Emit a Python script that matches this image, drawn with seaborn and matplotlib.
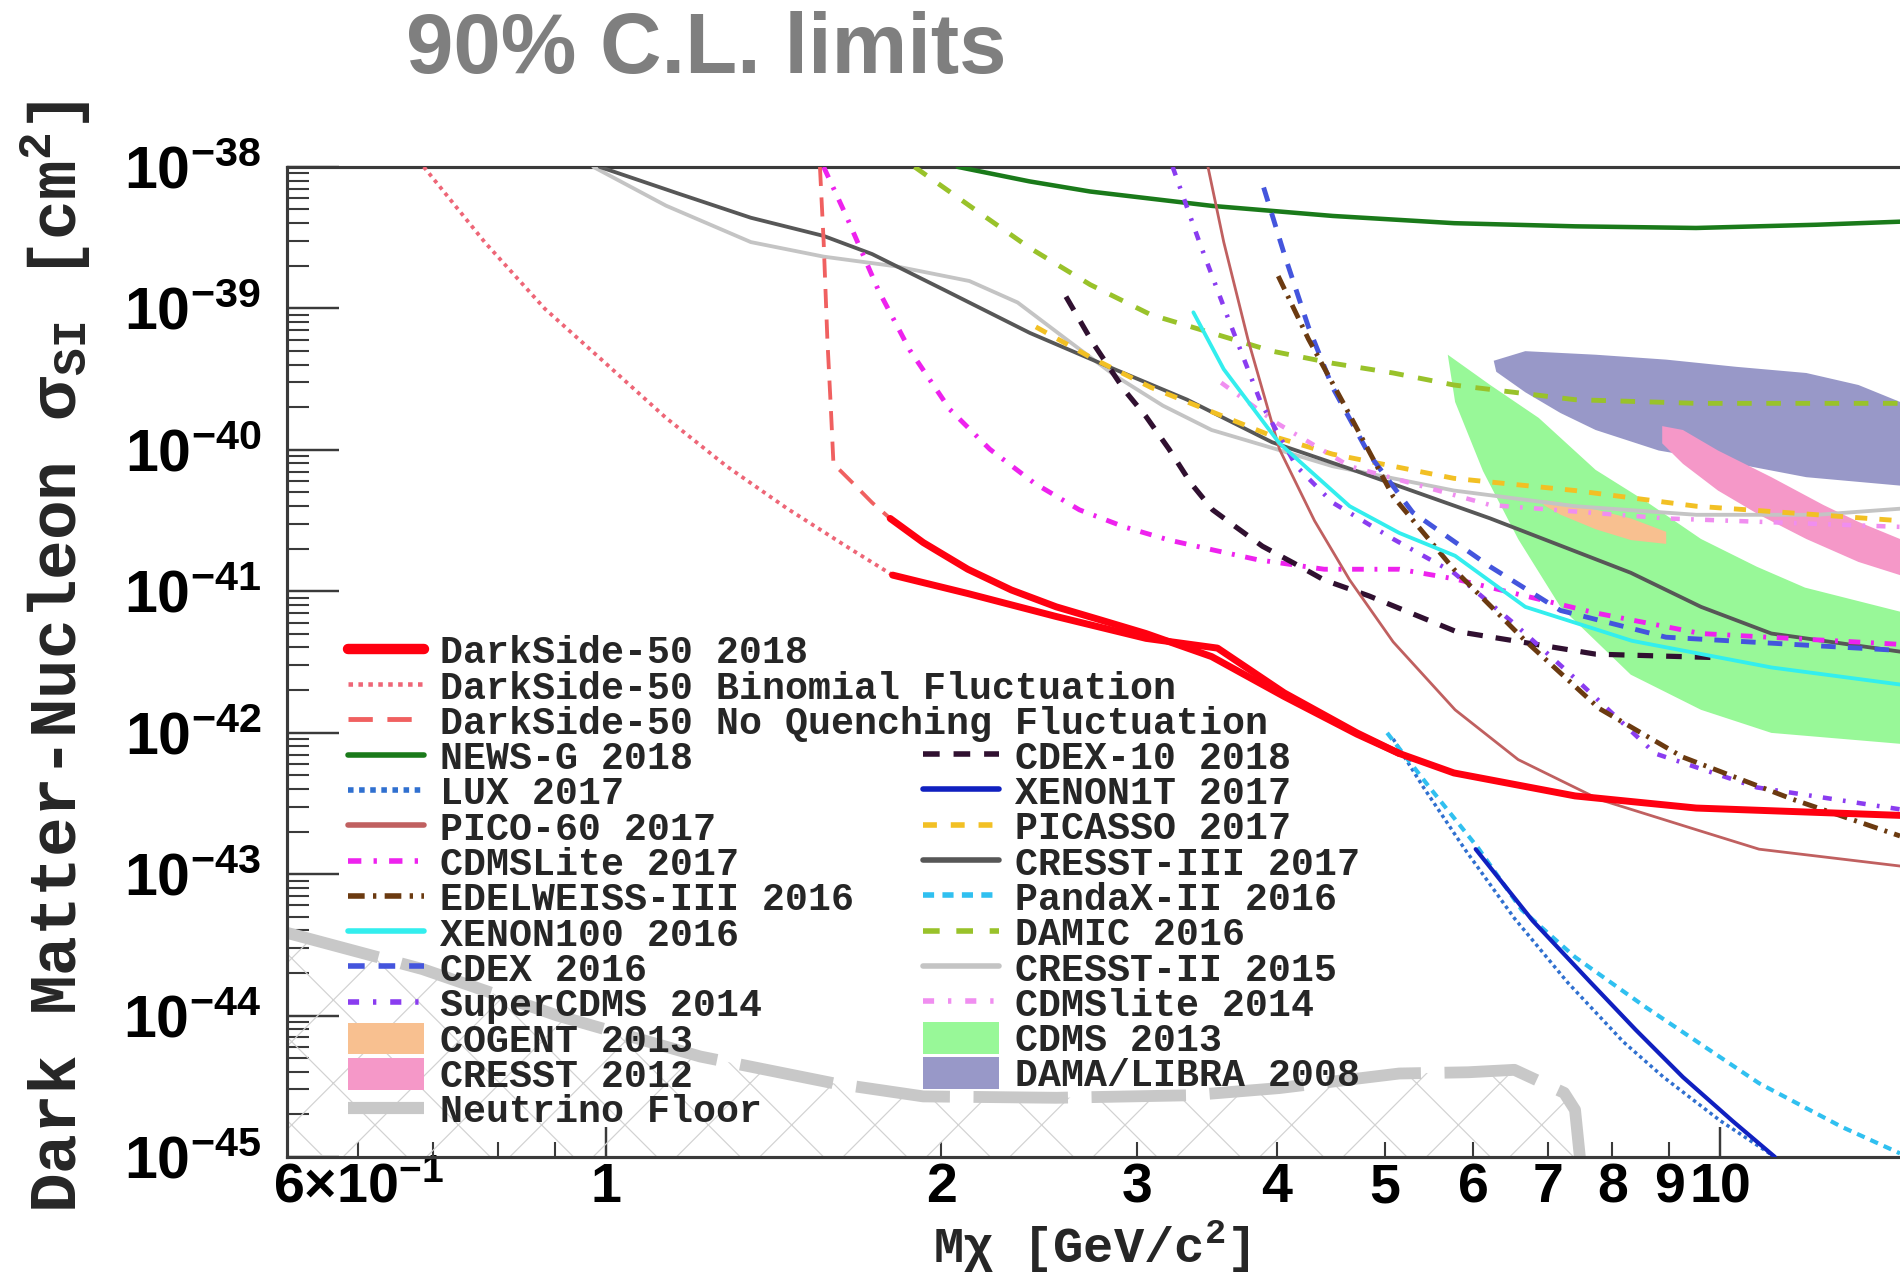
import matplotlib
matplotlib.use("Agg")
import matplotlib.pyplot as plt
from matplotlib.ticker import FixedLocator, FixedFormatter, LogLocator, NullFormatter
import seaborn as sns

# ------------------------------------------------------------------
# 90% C.L. exclusion limits: WIMP mass [GeV/c^2] vs sigma_SI [cm^2]
# ------------------------------------------------------------------
ds50_a_m = [1.800, 1.927, 2.113, 2.312, 2.537, 2.784, 3.053, 3.496, 4.062, 4.720, 5.152, 5.766, 7.406, 9.512, 14.49]
ds50_a_s = [3.27e-41, 2.21e-41, 1.43e-41, 1.02e-41, 7.75e-42, 6.24e-42, 5.02e-42, 3.45e-42, 1.80e-42, 9.76e-43,
            7.12e-43, 5.19e-43, 3.57e-43, 2.93e-43, 2.60e-43]
ds50_b_m = [1.809, 2.113, 2.537, 3.053, 3.539, 4.062, 4.720, 5.152]
ds50_b_s = [1.30e-41, 9.63e-42, 6.62e-42, 4.64e-42, 3.96e-42, 1.91e-42, 9.96e-43, 7.12e-43]
ds50_binom_m = [0.687, 0.779, 0.882, 1.0, 1.133, 1.284, 1.456, 1.650, 1.809]
ds50_binom_s = [1.0e-38, 2.94e-39, 9.94e-40, 4.09e-40, 1.68e-40, 7.65e-41, 3.83e-41, 2.04e-41, 1.30e-41]
ds50_noq_m = [1.557, 1.569, 1.581, 1.593, 1.601, 1.671, 1.734, 1.800]
ds50_noq_s = [1.0e-38, 2.94e-39, 6.07e-40, 1.86e-40, 7.96e-41, 5.69e-41, 4.23e-41, 3.27e-41]

newsg_m = [2.07, 2.40, 2.72, 3.50, 4.49, 5.77, 7.41, 9.51, 12.2, 14.5]
newsg_s = [1.0e-38, 7.9e-39, 6.7e-39, 5.3e-39, 4.5e-39, 4.0e-39, 3.8e-39, 3.7e-39, 3.9e-39, 4.1e-39]

lux_m = [5.087, 5.416, 5.898, 6.534, 7.295, 8.185, 8.890, 10.0, 11.19]
lux_s = [9.03e-43, 4.10e-43, 1.50e-43, 4.87e-44, 1.71e-44, 6.50e-45, 3.67e-45, 1.80e-45, 1.0e-45]

pico_m = [3.470, 3.585, 3.768, 4.022, 4.324, 4.650, 5.087, 5.781, 6.585, 7.787, 9.512, 10.83, 14.49]
pico_s = [1.0e-38, 2.94e-39, 6.07e-40, 1.01e-40, 3.15e-41, 1.20e-41, 4.38e-42, 1.45e-42, 6.45e-43, 3.37e-43,
          2.06e-43, 1.50e-43, 1.14e-43]

cdmslite17_m = [1.569, 1.645, 1.757, 1.874, 2.036, 2.211, 2.425, 2.661, 2.919, 3.202, 3.504, 3.844, 4.411,
                5.152, 5.781, 7.727, 9.607, 14.49]
cdmslite17_s = [1.0e-38, 4.45e-39, 1.34e-39, 5.08e-40, 1.93e-40, 1.01e-40, 5.80e-41, 3.76e-41, 2.85e-41,
                2.30e-41, 1.96e-41, 1.67e-41, 1.43e-41, 1.43e-41, 1.22e-41, 7.02e-42, 5.02e-42, 4.21e-42]

edelweiss_m = [4.012, 4.270, 4.603, 5.087, 5.766, 6.683, 7.787, 9.254, 11.62, 14.49]
edelweiss_s = [1.69e-39, 6.07e-40, 2.05e-40, 4.67e-41, 1.43e-41, 4.46e-42, 1.48e-42, 6.71e-43, 3.37e-43, 1.86e-43]

xenon100_m = [3.367, 3.585, 4.022, 4.650, 5.152, 5.781, 6.683, 8.330, 11.11, 14.49]
xenon100_s = [9.37e-40, 3.71e-40, 1.11e-40, 3.99e-41, 2.58e-41, 1.78e-41, 7.75e-42, 4.46e-42, 2.89e-42, 2.19e-42]

cdex16_m = [3.893, 4.062, 4.270, 4.489, 4.839, 5.296, 6.216, 7.186, 8.937, 14.49]
cdex16_s = [7.15e-39, 2.42e-39, 7.39e-40, 2.76e-40, 9.31e-41, 3.61e-41, 1.49e-41, 7.31e-42, 4.73e-42, 3.81e-42]

supercdms_m = [3.226, 3.409, 3.611, 3.873, 4.165, 4.489, 5.087, 5.766, 6.534, 7.406, 8.737, 10.78, 14.49]
supercdms_s = [1.0e-38, 2.94e-39, 8.83e-40, 2.13e-40, 7.65e-41, 4.23e-41, 2.34e-41, 1.35e-41, 5.88e-42,
               2.42e-42, 7.12e-43, 4.10e-43, 2.87e-43]

cdex10_m = [2.588, 2.735, 2.919, 3.053, 3.202, 3.350, 3.504, 3.675, 3.883, 4.143, 4.411, 4.839, 5.781, 7.727, 9.949]
cdex10_s = [1.21e-39, 5.72e-40, 2.65e-40, 1.72e-40, 1.01e-40, 5.80e-41, 3.76e-41, 2.85e-41, 2.08e-41, 1.58e-41,
            1.20e-41, 9.26e-42, 5.22e-42, 3.59e-42, 3.39e-42]

xenon1t_m = [6.032, 6.785, 7.650, 8.395, 9.254, 10.25, 11.19]
xenon1t_s = [1.50e-43, 4.68e-44, 1.71e-44, 7.92e-45, 3.67e-45, 1.80e-45, 1.0e-45]

picasso_m = [2.432, 2.721, 3.084, 3.496, 3.962, 4.489, 5.087, 5.766, 7.406, 9.512, 12.22, 14.49]
picasso_s = [7.39e-40, 4.52e-40, 2.76e-40, 1.86e-40, 1.25e-40, 9.31e-41, 7.65e-41, 6.28e-41, 5.15e-41, 3.99e-41,
             3.47e-41, 3.15e-41]

cresst3_m = [0.988, 1.162, 1.350, 1.569, 1.734, 2.016, 2.402, 2.861, 3.324, 3.962, 4.650, 6.216, 8.309, 9.607,
             11.11, 14.49]
cresst3_s = [1.0e-38, 6.48e-39, 4.37e-39, 3.25e-39, 2.42e-39, 1.34e-39, 6.70e-40, 3.71e-40, 2.26e-40, 1.13e-40,
             7.35e-41, 3.27e-41, 1.35e-41, 7.75e-42, 5.02e-42, 3.74e-42]

pandax_m = [5.024, 5.484, 6.062, 6.633, 7.406, 8.563, 10.83, 12.85, 14.49]
pandax_s = [9.96e-43, 4.10e-43, 1.53e-43, 5.59e-44, 2.59e-44, 1.15e-44, 3.32e-45, 1.63e-45, 1.06e-45]

damic_m = [1.893, 2.120, 2.402, 2.721, 3.084, 3.496, 3.962, 4.489, 5.087, 5.766, 7.406, 9.512, 14.49]
damic_s = [1.0e-38, 5.32e-39, 2.67e-39, 1.47e-39, 9.01e-40, 6.70e-40, 4.98e-40, 4.09e-40, 3.49e-40, 2.87e-40,
           2.26e-40, 2.13e-40, 2.13e-40]

cresst2_m = [0.975, 1.133, 1.350, 1.569, 1.823, 2.120, 2.342, 2.588, 2.861, 3.162, 3.496, 3.962, 4.489, 5.087,
             5.766, 7.406, 9.512, 12.22, 14.49]
cresst2_s = [1.0e-38, 5.32e-39, 2.94e-39, 2.32e-39, 1.98e-39, 1.56e-39, 1.10e-39, 6.07e-40, 3.36e-40, 2.05e-40,
             1.38e-40, 1.03e-40, 7.65e-41, 6.28e-41, 5.15e-41, 3.99e-41, 3.47e-41, 3.47e-41, 3.83e-41]

cdmslite14_m = [3.566, 3.992, 4.650, 6.216, 8.937, 14.49]
cdmslite14_s = [2.98e-40, 1.56e-40, 7.65e-41, 4.07e-41, 3.27e-41, 2.85e-41]

floor_m = [0.518, 0.685, 0.905, 1.216, 1.601, 1.927, 2.537, 3.350, 4.022, 5.152, 5.941, 6.534, 7.241, 7.406, 7.480]
floor_s = [3.84e-44, 2.13e-44, 1.00e-44, 5.13e-45, 3.32e-45, 2.68e-45, 2.62e-45, 2.73e-45, 3.07e-45, 3.89e-45,
           3.97e-45, 4.13e-45, 2.84e-45, 2.15e-45, 1.0e-45]

# signal regions (closed contours)
cdms13_m = [5.694, 6.216, 6.871, 7.727, 8.607, 9.607, 10.78, 11.91, 14.49,
            14.49, 11.11, 9.607, 8.309, 7.186, 6.585, 6.124, 5.781, 5.694]
cdms13_s = [4.70e-40, 2.87e-40, 1.68e-40, 7.21e-41, 4.23e-41, 2.34e-41, 1.49e-41, 1.06e-41, 7.17e-42,
            8.34e-43, 9.96e-43, 1.45e-42, 2.57e-42, 7.75e-42, 2.34e-41, 7.07e-41, 2.18e-40, 4.70e-40]

dama_m = [6.261, 6.683, 7.727, 8.937, 10.33, 11.94, 13.30, 14.49,
          14.49, 11.94, 10.33, 8.803, 7.727, 7.186, 6.683, 6.294]
dama_s = [4.26e-40, 4.98e-40, 4.70e-40, 4.34e-40, 3.86e-40, 3.49e-40, 2.87e-40, 2.18e-40,
          5.58e-41, 6.40e-41, 7.96e-41, 9.88e-41, 1.38e-40, 1.82e-40, 2.55e-40, 3.56e-40]

cresst12_m = [8.867, 9.254, 9.949, 11.11, 12.37, 13.30, 14.49,
              14.49, 13.30, 11.94, 10.83, 9.949, 9.254, 8.867]
cresst12_s = [1.47e-40, 1.38e-40, 9.88e-41, 6.40e-41, 4.07e-41, 3.09e-41, 2.34e-41,
              1.30e-41, 1.61e-41, 2.34e-41, 3.47e-41, 5.15e-41, 7.96e-41, 1.11e-40]

cogent_m = [6.94, 7.44, 8.31, 8.94, 8.94, 8.31, 7.73, 7.19, 6.94]
cogent_s = [4.40e-41, 4.07e-41, 3.27e-41, 2.63e-41, 2.16e-41, 2.30e-41, 2.74e-41, 3.47e-41, 4.07e-41]

# axis ticks
x_major = [1, 10]
x_major_labels = ["1", "10"]
x_minor = [0.6, 0.7, 0.8, 0.9, 2, 3, 4, 5, 6, 7, 8, 9]
x_minor_labels = [r"$6{\times}10^{-1}$", "", "", "", "2", "3", "4", "5", "6", "7", "8", "9"]
y_major = [1e-45, 1e-44, 1e-43, 1e-42, 1e-41, 1e-40, 1e-39, 1e-38]
y_labels = [r"$10^{-45}$", r"$10^{-44}$", r"$10^{-43}$", r"$10^{-42}$",
            r"$10^{-41}$", r"$10^{-40}$", r"$10^{-39}$", r"$10^{-38}$"]

# ------------------------------------------------------------------
sns.set_style("ticks")
plt.rcParams.update({
    "font.family": ["Liberation Sans", "DejaVu Sans"],
    "font.weight": "bold",
    "mathtext.fontset": "custom",
    "mathtext.rm": "Liberation Sans:bold",
    "mathtext.it": "Liberation Sans:bold",
    "mathtext.bf": "Liberation Sans:bold",
    "mathtext.sf": "Liberation Sans:bold",
    "mathtext.tt": "Liberation Mono:bold",
    "hatch.linewidth": 0.35,
    "hatch.color": "#d2d2d2",
    "axes.edgecolor": "#3a3a3a",
    "axes.linewidth": 0.9,
})

fig = plt.figure(figsize=(7.6, 5.104), dpi=250)
ax = fig.add_axes([0.1511, 0.0933, 0.8489, 0.7759])
ax.set_xscale("log")
ax.set_yscale("log")

artists = {}


def region(m, s, label, color):
    artists[label] = ax.fill(m, s, color=color, lw=0, zorder=1)[0]


def limit(m, s, label, color, lw, ls="-", z=3):
    kw = dict(x=m, y=s, ax=ax, color=color, linewidth=lw, linestyle=ls,
              sort=False, estimator=None, legend=False, zorder=z)
    if label:
        kw["label"] = label
    sns.lineplot(**kw)
    if label:
        artists[label] = ax.lines[-1]


# filled signal regions
region(cdms13_m, cdms13_s, "CDMS 2013", "#98f898")
region(dama_m, dama_s, "DAMA/LIBRA 2008", "#9898c8")
region(cresst12_m, cresst12_s, "CRESST 2012", "#f598c8")
region(cogent_m, cogent_s, "COGENT 2013", "#f8c090")

# neutrino floor with hatched region below it
ax.fill_between(floor_m, floor_s, 1e-45, facecolor="none", edgecolor="#d2d2d2",
                hatch="x", linewidth=0, zorder=1.5)
limit(floor_m, floor_s, "Neutrino Floor", "#c8c8c8", 3.4, (0, (8, 2)), z=2)

# exclusion curves
limit(newsg_m, newsg_s, "NEWS-G 2018", "#1a7a1a", 1.3)
limit(cresst2_m, cresst2_s, "CRESST-II 2015", "#c4c4c4", 1.1)
limit(cresst3_m, cresst3_s, "CRESST-III 2017", "#575757", 1.1)
limit(damic_m, damic_s, "DAMIC 2016", "#99c22a", 1.4, (0, (3, 3)))
limit(picasso_m, picasso_s, "PICASSO 2017", "#f2c024", 1.4, (0, (2.5, 2.5)))
limit(cdmslite14_m, cdmslite14_s, "CDMSlite 2014", "#f08ef0", 1.3, (0, (2, 2.5, 0.6, 2.5)))
limit(cdmslite17_m, cdmslite17_s, "CDMSLite 2017", "#ee22ee", 1.4, (0, (2.4, 2.2, 0.6, 2.2)))
limit(cdex10_m, cdex10_s, "CDEX-10 2018", "#301030", 1.5, (0, (3, 2.5)))
limit(pico_m, pico_s, "PICO-60 2017", "#c06060", 0.8)
limit(supercdms_m, supercdms_s, "SuperCDMS 2014", "#8a3cf0", 1.3, (0, (2, 2.5, 0.6, 2.5)))
limit(cdex16_m, cdex16_s, "CDEX 2016", "#4455dd", 1.4, (0, (3, 2.5)))
limit(edelweiss_m, edelweiss_s, "EDELWEISS-III 2016", "#6b3a10", 1.4, (0, (3, 1.5, 0.6, 1.5)))
limit(xenon100_m, xenon100_s, "XENON100 2016", "#33eeee", 1.1)
limit(lux_m, lux_s, "LUX 2017", "#3070d0", 1.0, (0, (1, 1)))
limit(pandax_m, pandax_s, "PandaX-II 2016", "#30c0f0", 1.2, (0, (2, 1.5)))
limit(xenon1t_m, xenon1t_s, "XENON1T 2017", "#1020c0", 1.2)
limit(ds50_binom_m, ds50_binom_s, "DarkSide-50 Binomial Fluctuation", "#ee6677", 1.1, (0, (1, 1.2)), z=4)
limit(ds50_noq_m, ds50_noq_s, "DarkSide-50 No Quenching Fluctuation", "#f06060", 1.1, (0, (5, 3)), z=4)
limit(ds50_a_m, ds50_a_s, "DarkSide-50 2018", "#ff0010", 2.0, z=4)
limit(ds50_b_m, ds50_b_s, None, "#ff0010", 2.0, z=4)

# axes, ticks
ax.set_xlim(0.518, 14.49)
ax.set_ylim(1e-45, 1e-38)
ax.xaxis.set_major_locator(FixedLocator(x_major))
ax.xaxis.set_major_formatter(FixedFormatter(x_major_labels))
ax.xaxis.set_minor_locator(FixedLocator(x_minor))
ax.xaxis.set_minor_formatter(FixedFormatter(x_minor_labels))
ax.yaxis.set_major_locator(FixedLocator(y_major))
ax.yaxis.set_major_formatter(FixedFormatter(y_labels))
ax.yaxis.set_minor_locator(LogLocator(base=10, subs=[2, 3, 4, 5, 6, 7, 8, 9], numticks=60))
ax.yaxis.set_minor_formatter(NullFormatter())
ax.spines["right"].set_visible(False)
ax.tick_params(axis="both", which="both", direction="in", top=False, right=False,
               colors="#3a3a3a", labelcolor="black")
ax.tick_params(axis="y", which="major", length=15, width=0.7, pad=7.5, labelsize=17)
ax.tick_params(axis="y", which="minor", length=6.3, width=0.6)
ax.tick_params(axis="x", which="major", length=8.6, width=0.7, pad=1.5, labelsize=16)
ax.tick_params(axis="x", which="minor", length=4.3, width=0.6, pad=1.5, labelsize=16)

ax.set_ylabel(r"Dark Matter-Nucleon $\sigma_{\mathtt{SI}}$ [cm$^{\mathtt{2}}$]",
              fontfamily="Liberation Mono", fontweight="bold", fontsize=19)
ax.yaxis.label.set_va("center")
ax.yaxis.set_label_coords(-0.144, 0.505)
ax.set_xlabel(r"M$\chi$ [GeV/c$^{\mathtt{2}}$]", fontfamily="Liberation Mono",
              fontweight="bold", fontsize=14.5)
ax.xaxis.label.set_va("bottom")
ax.xaxis.set_label_coords(0.4985, -0.119)

fig.text(0.2137, 0.96, "90% C.L. limits", ha="left", va="center", fontsize=24.5,
         color="#7f7f7f", fontweight="bold", family="Liberation Sans")

# legends: first column spans three long entries, second column starts at row 4
col1 = ["DarkSide-50 2018", "DarkSide-50 Binomial Fluctuation", "DarkSide-50 No Quenching Fluctuation",
        "NEWS-G 2018", "LUX 2017", "PICO-60 2017", "CDMSLite 2017", "EDELWEISS-III 2016",
        "XENON100 2016", "CDEX 2016", "SuperCDMS 2014", "COGENT 2013", "CRESST 2012", "Neutrino Floor"]
col2 = ["CDEX-10 2018", "XENON1T 2017", "PICASSO 2017", "CRESST-III 2017", "PandaX-II 2016",
        "DAMIC 2016", "CRESST-II 2015", "CDMSlite 2014", "CDMS 2013", "DAMA/LIBRA 2008"]
handle_lw = {"DarkSide-50 2018": 3.0, "DarkSide-50 Binomial Fluctuation": 1.3,
             "DarkSide-50 No Quenching Fluctuation": 1.4, "Neutrino Floor": 3.5}

leg_kw = dict(loc="upper left", frameon=False, handlelength=2.0, handletextpad=0.4,
              labelspacing=-0.045, borderpad=0, borderaxespad=0, handleheight=0.9,
              prop={"family": "Liberation Mono", "weight": "bold", "size": 11})
leg1 = ax.legend([artists[k] for k in col1], col1, bbox_to_anchor=(0.0378, 0.528), **leg_kw)
ax.add_artist(leg1)
leg2 = ax.legend([artists[k] for k in col2], col2, bbox_to_anchor=(0.3943, 0.4215), **leg_kw)
for leg in (leg1, leg2):
    for h, t in zip(leg.legend_handles, leg.get_texts()):
        if isinstance(h, matplotlib.lines.Line2D):
            h.set_linewidth(handle_lw.get(t.get_text(), 1.6))

fig.savefig("out.png", dpi=250)
